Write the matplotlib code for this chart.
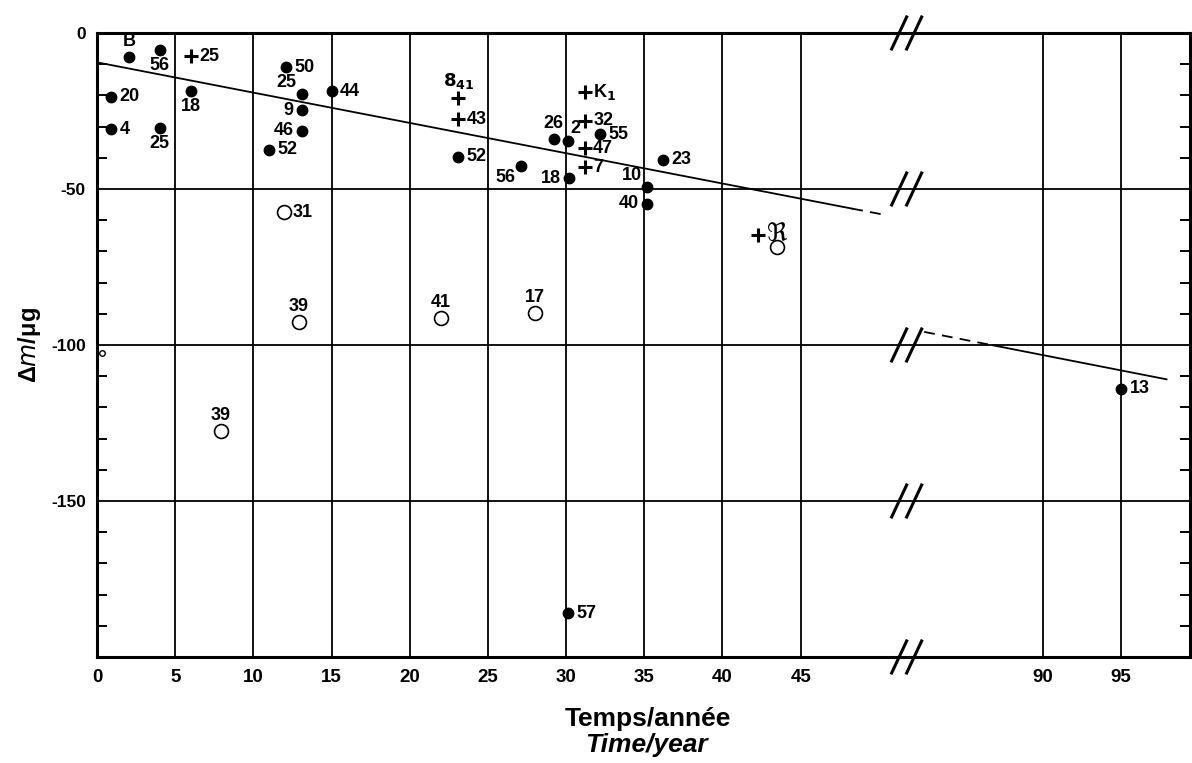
import numpy as np
import matplotlib
matplotlib.use("Agg")
import matplotlib.pyplot as plt
from matplotlib import font_manager

# filled points: x (year), dm (ug), label, where the label sits
dot_x = [2.05, 4.0, 0.9, 6.0, 0.9, 4.0, 12.1, 13.1, 13.1, 13.1, 11.0, 15.0,
         23.1, 27.1, 29.2, 30.1, 30.2, 32.2, 36.2, 35.2, 35.2, 30.1, 95.0]
dot_y = [-7.7, -5.4, -20.5, -18.6, -30.8, -30.4, -10.9, -19.6, -24.7, -31.4, -37.5, -18.6,
         -39.7, -42.6, -34.0, -34.6, -46.5, -32.4, -40.7, -49.4, -54.8, -186.0, -114.0]
dot_lab = ["B", "56", "20", "18", "4", "25", "50", "25", "9", "46", "52", "44",
           "52", "56", "26", "2", "18", "55", "23", "10", "40", "57", "13"]
dot_pos = ["a", "b", "r", "b", "r", "b", "r", "al", "l", "l", "r", "r",
           "r", "bl", "a", "ar", "l", "r", "r", "al", "l", "r", "r"]

# crosses
plus_x = [6.0, 23.1, 23.1, 31.2, 31.2, 31.2, 31.2, 42.3]
plus_y = [-7.4, -20.8, -27.6, -18.9, -28.2, -36.9, -43.0, -64.7]
plus_lab = ["25", r"$\mathbf{8}_{\mathbf{41}}$", "43", r"K$_{\mathbf{1}}$", "32", "47", "7", ""]
plus_pos = ["r", "a", "r", "r", "r", "r", "r", "r"]

# open circles
ring_x = [11.96, 12.9, 22.0, 28.0, 7.9, 43.5]
ring_y = [-57.4, -92.6, -91.3, -89.7, -127.6, -68.6]
ring_lab = ["31", "39", "41", "17", "39", ""]
ring_pos = ["r", "a", "a", "a", "a", "a"]
tiny_x, tiny_y = [0.3], [-102.6]

# trend lines (solid part then dashed end)
trend_a_x = [0, 48.3, 50.5]
trend_a_y = [-9.4, -56.3, -58.4]
trend_b_x = [82.4, 86.8, 97.9]
trend_b_y = [-95.8, -100.1, -111.0]

xticks = [0, 5, 10, 15, 20, 25, 30, 35, 40, 45, 90, 95]
yticks = [0, -50, -100, -150, -200]
ylabels = ["0", "-50", "-100", "-150", ""]

names = {f.name for f in font_manager.fontManager.ttflist}
narrow = "Liberation Sans Narrow" if "Liberation Sans Narrow" in names else "Liberation Sans"
plt.rcParams["font.family"] = ["Liberation Sans", "DejaVu Sans"]

# broken time axis: squeeze 50.5..82.4 into a small gap
bp_x = [-100, 50.5, 82.4, 300]
bp_u = [-100, 50.5, 52.9, 270.5]
def fwd(x):
	return np.interp(x, bp_x, bp_u)
def inv(u):
	return np.interp(u, bp_u, bp_x)

fig = plt.figure(figsize=(11.92, 7.63), dpi=100)
ax = fig.add_axes([97 / 1192, 1 - 657 / 763, 1093 / 1192, 624 / 763])
ax.set_xscale("function", functions=(fwd, inv))
ax.set_xlim(0, 99.4)
ax.set_ylim(-200, 0)

ax.set_xticks(xticks)
ax.set_xticklabels([str(t) for t in xticks], family=narrow, fontsize=13.5, fontweight="bold")
ax.set_yticks(yticks)
ax.set_yticklabels(ylabels, fontweight="bold", fontsize=12.5)
ax.set_yticks(np.arange(-190, 0, 10), minor=True)
ax.tick_params(axis="x", length=0, pad=9)
ax.tick_params(axis="y", which="major", length=0, pad=8)
ax.tick_params(axis="y", which="minor", direction="in", length=7, width=1.4, left=True, right=True)
ax.grid(True, color="black", lw=1.3)
ax.set_axisbelow(True)
for s in ax.spines.values():
	s.set_linewidth(2.2)

ax.plot(trend_a_x[:2], trend_a_y[:2], color="black", lw=1.3)
ax.plot(trend_a_x[1:], trend_a_y[1:], color="black", lw=1.3, dashes=(6, 4))
ax.plot(trend_b_x[1:], trend_b_y[1:], color="black", lw=1.3)
ax.plot(trend_b_x[:2], trend_b_y[:2], color="black", lw=1.3, dashes=(6, 4))

ax.plot(dot_x, dot_y, "o", color="black", ms=7.5, ls="none", zorder=4)
ax.plot(plus_x, plus_y, "+", color="black", ms=10, mew=2.2, ls="none", zorder=4)
ax.plot(ring_x, ring_y, "o", mfc="white", mec="black", ms=10, mew=1.2, ls="none", zorder=4)
ax.plot(tiny_x, tiny_y, "o", mfc="white", mec="black", ms=4, mew=1, ls="none", zorder=4)
ax.text(43.5, -64.5, r"$\Re$", fontsize=18, fontweight="bold", ha="center", va="center", zorder=5)

offs = {"r": (6, 0, "left", "center"), "l": (-6, 0, "right", "center"),
        "a": (0, 5, "center", "bottom"), "b": (0, -5, "center", "top"),
        "al": (-4, 2, "right", "bottom"), "ar": (2, 3, "left", "bottom"),
        "bl": (-4, -2, "right", "top")}

def put_labels(xs, ys, labs, pos):
	for x, y, t, p in zip(xs, ys, labs, pos):
		if not t:
			continue
		dx, dy, ha, va = offs[p]
		ax.annotate(t, (x, y), xytext=(dx, dy), textcoords="offset points",
			ha=ha, va=va, fontsize=13, fontweight="bold", zorder=6)

put_labels(dot_x, dot_y, dot_lab, dot_pos)
put_labels(plus_x, plus_y, plus_lab, plus_pos)
put_labels(ring_x, ring_y, ring_lab, ring_pos)

# break marks "//" on every horizontal line
bx = ax.transAxes.inverted().transform(ax.transData.transform((67.5, 0)))[0]
sw, sh = 15 / 1093, 32 / 624
for yv in yticks:
	ya = (yv + 200) / 200
	for k in (-0.5, 0.5):
		cx = bx + k * sw
		ax.plot([cx - sw / 2, cx + sw / 2], [ya - sh / 2, ya + sh / 2], color="black",
			lw=2.2, transform=ax.transAxes, clip_on=False, zorder=7)

ax.set_ylabel(r"Δ$\mathit{m}$/μg", fontsize=17, fontweight="bold", labelpad=6)
fig.text(648 / 1192, 1 - 719 / 763, "Temps/année", ha="center", va="center",
	fontsize=19, fontweight="bold", family=narrow)
fig.text(646 / 1192, 1 - 745 / 763, "Time/year", ha="center", va="center",
	fontsize=19, fontweight="bold", style="italic", family=narrow)

fig.savefig("out.png", dpi=100)
